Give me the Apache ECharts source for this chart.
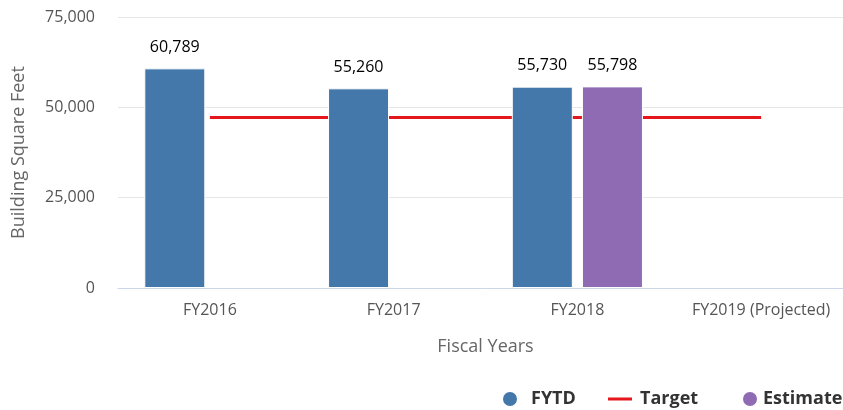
<!DOCTYPE html>
<html>
<head>
<meta charset="utf-8">
<script src="https://cdn.jsdelivr.net/npm/echarts@6/dist/echarts.min.js"></script>
<style>
  html, body { margin: 0; padding: 0; background: #fff; overflow: hidden; }
  #chart { width: 860px; height: 410px; }
</style>
</head>
<body>
<div id="chart"></div>
<script>
const categories = ["FY2016", "FY2017", "FY2018", "FY2019 (Projected)"]
const fytd = [60789, 55260, 55730, null]
const estimate = [null, null, 55798, null]
const target = [47200, 47200, 47200, 47200]
const yTicks = [0, 25000, 50000, 75000]

const font = "'Open Sans', sans-serif"
// the plot runs a little past the right edge in the reference, so the div is wider than the window
const chart = echarts.init(document.getElementById("chart"), null, { renderer: "canvas" })

const fmt = (v) => v.toLocaleString("en-US")

const legendText = { fontFamily: font, fontSize: 18, fontWeight: "bold", color: "#333", padding: [0, 0, 0, 8] }

chart.setOption({
  animation: false,
  grid: { left: 118, top: 17, width: 735, height: 271 },
  legend: [
    { data: [{ name: "FYTD", icon: "circle" }], left: 501, top: 390, padding: 0, itemWidth: 16, itemHeight: 16, textStyle: legendText },
    { data: [{ name: "Target", icon: "rect" }], left: 608, top: 390, padding: 0, itemWidth: 24, itemHeight: 3, textStyle: { ...legendText, padding: [0, 0, 0, 3] } },
    { data: [{ name: "Estimate", icon: "circle" }], left: 741, top: 390, padding: 0, itemWidth: 16, itemHeight: 16, textStyle: { ...legendText, padding: 0 } },
  ],
  xAxis: {
    type: "category",
    data: categories,
    name: "Fiscal Years",
    nameLocation: "middle",
    nameGap: 50,
    nameTextStyle: { fontFamily: font, fontSize: 18, color: "#666" },
    axisLine: { lineStyle: { color: "#ccd6eb" } },
    axisTick: { length: 10, lineStyle: { color: "#ccd6eb" } },
    axisLabel: { fontFamily: font, fontSize: 16, color: "#555", margin: 14 },
  },
  yAxis: {
    type: "value",
    min: yTicks[0],
    max: yTicks[yTicks.length - 1],
    interval: 25000,
    name: "Building Square Feet",
    nameLocation: "middle",
    nameGap: 90,
    nameTextStyle: { fontFamily: font, fontSize: 18, color: "#666" },
    axisLabel: { fontFamily: font, fontSize: 16, color: "#555", margin: 23, formatter: fmt },
    splitLine: { lineStyle: { color: "#e6e6e6" } },
  },
  series: [
    {
      name: "Target",
      type: "line",
      data: target,
      symbol: "none",
      z: 1,
      lineStyle: { color: "#e5161c", width: 3 },
      itemStyle: { color: "#e5161c" },
    },
    {
      name: "FYTD",
      type: "bar",
      data: fytd,
      barWidth: 61,
      barGap: "15%",
      z: 3,
      itemStyle: { color: "#4477aa", borderColor: "#fff", borderWidth: 1 },
      label: { show: true, position: "top", distance: 13, fontFamily: font, fontSize: 16, color: "#000", formatter: (p) => fmt(p.value) },
    },
    {
      name: "Estimate",
      type: "bar",
      data: estimate,
      barWidth: 61,
      z: 3,
      itemStyle: { color: "#8e6bb3", borderColor: "#fff", borderWidth: 1 },
      label: { show: true, position: "top", distance: 13, fontFamily: font, fontSize: 16, color: "#000", formatter: (p) => fmt(p.value) },
    },
  ],
})
</script>
</body>
</html>
